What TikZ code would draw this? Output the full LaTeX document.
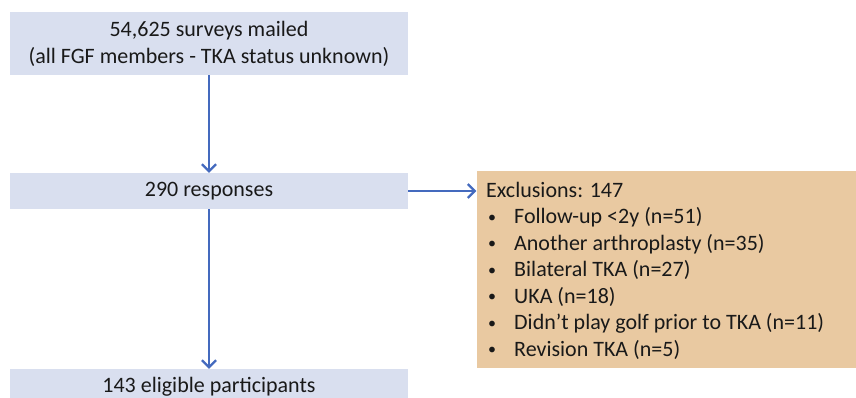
\documentclass[tikz,border=0pt]{standalone}
\usepackage{fontspec}
\setmainfont{Carlito}
\usetikzlibrary{arrows.meta}
\definecolor{boxblue}{RGB}{217,223,239}
\definecolor{boxtan}{RGB}{233,201,161}
\definecolor{arrowblue}{RGB}{68,106,190}
\newcommand{\bulletitem}{\makebox[28pt][l]{\hspace{2pt}\raisebox{1.5pt}{\fontsize{16}{16}\selectfont •}}}
\begin{document}
\begin{tikzpicture}[x=1pt,y=-1pt,
  bluebox/.style={fill=boxblue,draw=none,minimum width=398pt,inner sep=0pt,align=center,font=\fontsize{22}{27}\selectfont,text=black!90},
  flowarrow/.style={draw=arrowblue,line width=2.6pt,-{Straight Barb[length=7pt,width=14pt,line width=2.2pt]}}]
\useasboundingbox (0,0) rectangle (856,398);
\clip (0,0) rectangle (856,398);
\node[bluebox,minimum height=63pt] (mailed) at (209,43.5) {54,625 surveys mailed\\(all FGF members - TKA status unknown)};
\node[bluebox,minimum height=36pt] (resp) at (209,191) {290 responses};
\node[bluebox,minimum height=36pt] (elig) at (209,387) {143 eligible participants};
\node[fill=boxtan,minimum width=380pt,minimum height=197pt,inner sep=0pt] (excl) at (666.5,269.5) {};
\node[anchor=north west,inner sep=0pt,align=left,font=\fontsize{22}{26.5}\selectfont,text=black!90] (excltext) at (486,182)
{Exclusions: 147\\
\bulletitem Follow-up <2y (n=51)\\
\bulletitem Another arthroplasty (n=35)\\
\bulletitem Bilateral TKA (n=27)\\
\bulletitem UKA (n=18)\\
\bulletitem Didn’t play golf prior to TKA (n=11)\\
\bulletitem Revision TKA (n=5)};
\draw[flowarrow] (mailed.south) -- (resp.north);
\draw[flowarrow] (resp.south) -- (elig.north);
\draw[flowarrow] (resp.east) -- (resp.east -| excl.west);
\end{tikzpicture}
\end{document}
